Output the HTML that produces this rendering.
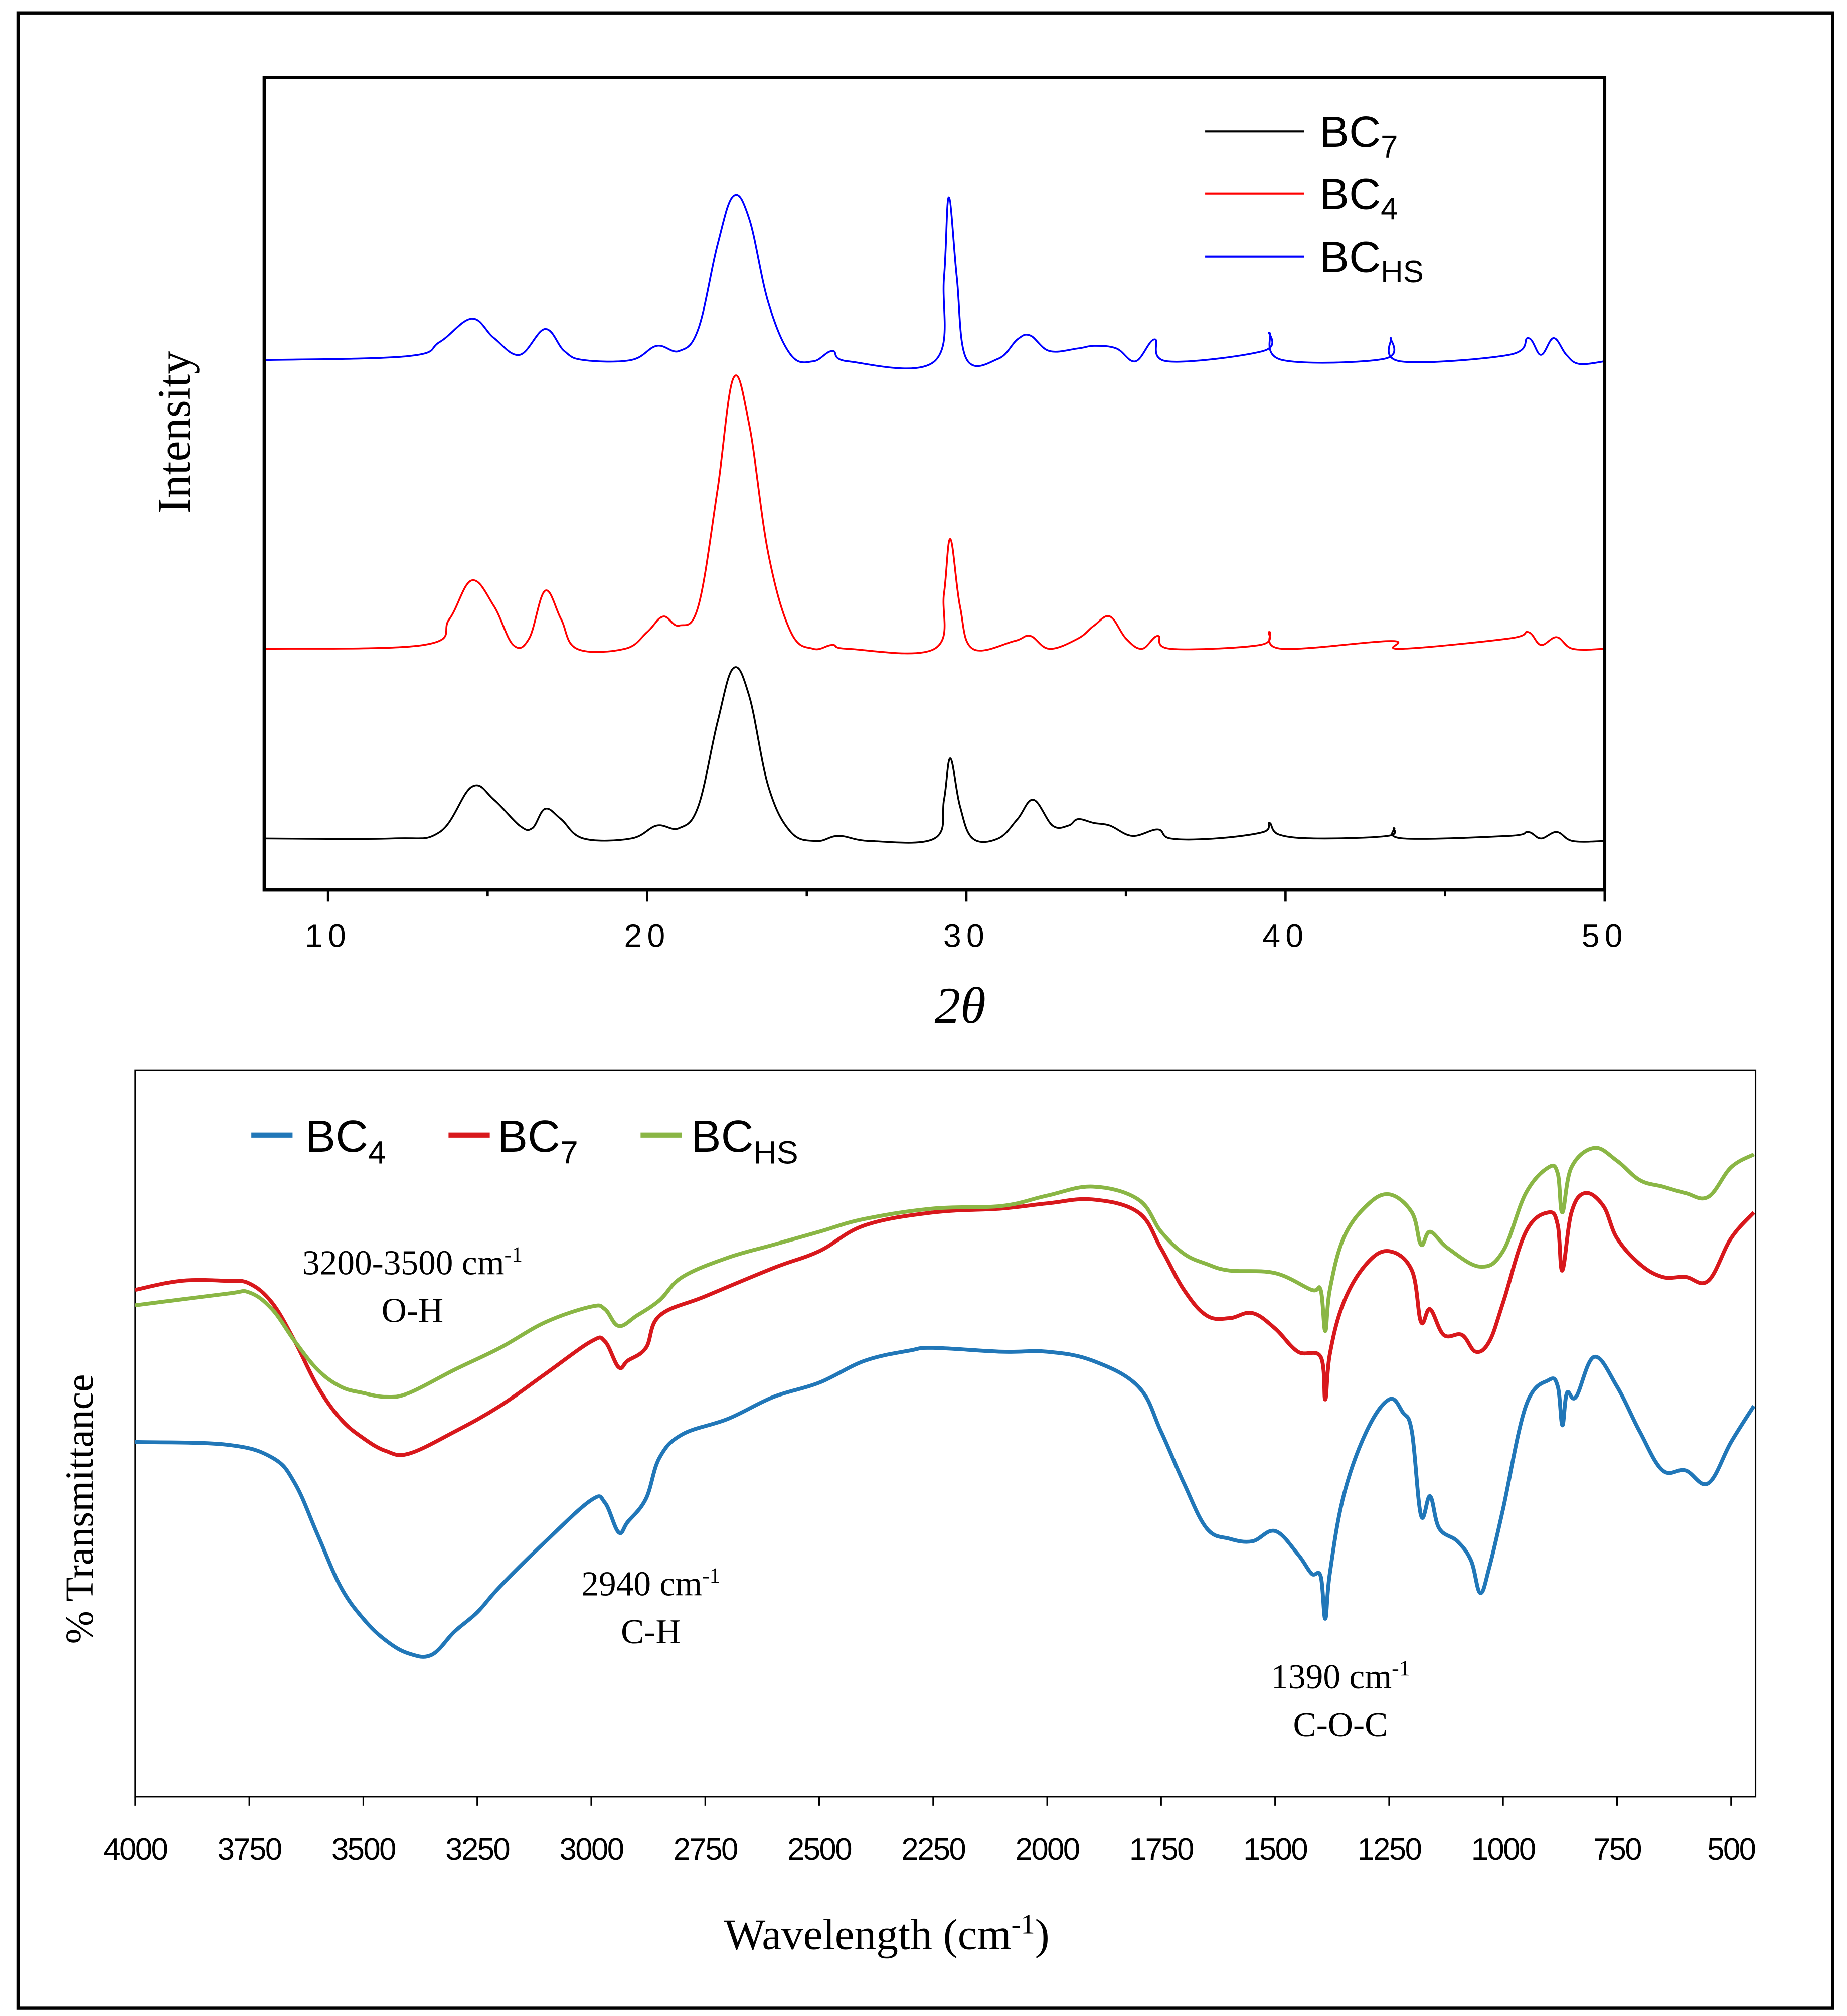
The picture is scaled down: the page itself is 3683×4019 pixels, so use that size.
<!DOCTYPE html>
<html><head><meta charset="utf-8"><style>
html,body{margin:0;padding:0;background:#fff;}
svg{display:block;}
</style></head><body>
<svg id="fig" width="3683" height="4019" viewBox="0 0 1433 1563" preserveAspectRatio="none" xmlns="http://www.w3.org/2000/svg">
<rect x="14" y="10" width="1408" height="1547" fill="#fff" stroke="#000" stroke-width="2.5"/>
<g id="xrd"></g>
<g id="ftir"></g>
</svg>
<script>
// ---------- XRD data (2theta, intensity a.u.) ----------
const xrdTicks = [10,20,30,40,50];
const xrdBC7x = [8,12,13.5,14.5,15.2,16,16.4,16.8,17.3,18,19.5,20.3,21,21.6,22.2,22.7,23.2,23.8,24.5,25.3,26,27,29,29.3,29.5,29.8,30.2,31,31.6,32.1,32.7,33.2,33.5,34,34.5,35.2,36,36.4,37.8,39.3,39.5,39.8,41,43.2,43.4,43.7,47,47.6,48,48.5,49,50];
const xrdBC7y = [650,650,645,610,620,640,642,627,635,650,650,640,642,625,560,518,540,610,645,652,648,652,650,620,588,625,650,650,635,620,640,640,635,638,640,648,643,650,650,645,638,647,650,648,642,650,648,645,650,645,652,652].map(v=>(690-v)/630*100);
const xrdBC4x = [8,13,13.8,14.5,15.2,15.8,16.3,16.8,17.3,17.8,19.3,20,20.5,21,21.6,22.2,22.7,23.2,23.8,24.5,25.2,25.8,26.3,29,29.3,29.5,29.8,30.2,31.5,32,32.6,33.5,34,34.5,35,35.5,36,36.4,39.2,39.5,39.9,43.3,43.6,47,47.6,48,48.5,49,50];
const xrdBC4y = [503,500,480,450,470,500,495,458,480,503,503,490,478,485,470,380,293,330,430,490,503,500,503,503,460,418,470,503,497,493,503,495,485,478,495,503,493,503,500,490,503,497,503,495,490,500,494,503,503].map(v=>(690-v)/630*100);
const xrdHSx = [8,12.5,13.5,14.5,15.2,16,16.8,17.4,18,19.5,20.3,21,21.6,22.2,22.7,23.2,23.8,24.5,25.2,25.8,26.3,29,29.3,29.45,29.7,30,31,31.6,32,32.6,33.5,34,34.7,35.3,35.9,36.3,39.3,39.5,39.9,43.1,43.3,43.6,47,47.6,48,48.4,48.8,49.2,50];
const xrdHSy = [279,276,265,247,262,275,255,272,279,279,268,272,255,190,152,170,235,275,280,272,280,280,215,153,215,278,278,263,260,272,270,268,270,280,263,280,272,258,279,278,262,280,275,262,275,262,275,282,280].map(v=>(690-v)/630*100);

// ---------- FTIR data (wavenumber, %T a.u.) ----------
const ftirTicks = [4000,3750,3500,3250,3000,2750,2500,2250,2000,1750,1500,1250,1000,750,500];
const bc4x = [4000,3800,3700,3650,3600,3550,3500,3450,3400,3350,3300,3250,3200,3100,3000,2970,2940,2920,2880,2850,2800,2700,2600,2500,2400,2300,2250,2100,2000,1900,1800,1750,1700,1650,1600,1550,1500,1450,1420,1400,1390,1380,1350,1300,1250,1220,1200,1180,1160,1140,1100,1070,1050,1030,1000,950,900,880,870,860,840,800,750,700,650,600,550,500,450];
const bc4y = [1118,1120,1130,1150,1190,1230,1255,1272,1282,1283,1265,1250,1230,1195,1163,1165,1188,1180,1162,1130,1112,1100,1083,1072,1055,1047,1045,1048,1048,1055,1075,1110,1150,1185,1193,1195,1187,1205,1220,1222,1255,1220,1160,1110,1085,1095,1110,1175,1160,1185,1195,1210,1235,1215,1170,1090,1070,1075,1105,1080,1083,1052,1075,1110,1140,1140,1150,1118,1090].map(v=>(1393-v)/563*100);
const bc7x = [4000,3900,3800,3750,3700,3650,3600,3550,3500,3450,3400,3300,3200,3100,3000,2970,2940,2920,2880,2850,2750,2600,2500,2400,2250,2100,2000,1900,1800,1750,1700,1650,1600,1550,1500,1450,1400,1390,1380,1350,1300,1250,1200,1180,1160,1130,1090,1060,1030,1000,950,900,880,870,850,820,780,750,700,650,600,550,500,450];
const bc7y = [1000,993,993,995,1010,1040,1075,1100,1115,1125,1127,1110,1090,1065,1040,1040,1060,1055,1045,1020,1005,983,970,950,940,937,933,930,940,968,1000,1020,1022,1018,1030,1048,1052,1085,1050,1010,980,970,985,1025,1015,1035,1035,1048,1040,1010,955,940,950,985,940,925,935,960,980,990,990,993,960,940].map(v=>(1393-v)/563*100);
const bchsx = [4000,3800,3750,3700,3650,3600,3550,3500,3450,3400,3300,3200,3100,3000,2970,2940,2900,2850,2800,2700,2600,2500,2400,2250,2100,2000,1900,1800,1750,1700,1650,1600,1500,1420,1400,1390,1380,1350,1300,1250,1200,1180,1160,1120,1050,1000,950,900,880,870,850,800,750,700,650,600,550,500,450];
const bchsy = [1012,1003,1002,1015,1040,1062,1075,1080,1083,1080,1062,1045,1025,1013,1015,1028,1020,1008,990,975,965,955,945,937,935,927,920,930,955,972,980,985,987,1000,1000,1032,1000,960,935,926,940,965,955,968,982,970,925,905,910,940,905,890,900,915,920,925,928,905,895].map(v=>(1393-v)/563*100);

const NS='http://www.w3.org/2000/svg';
function mk(parent,tag,attrs,text){const e=document.createElementNS(NS,tag);for(const k in attrs)e.setAttribute(k,attrs[k]);if(text!==undefined)e.textContent=text;parent.appendChild(e);return e;}
function smooth(pts){
  let d='M'+pts[0][0].toFixed(2)+' '+pts[0][1].toFixed(2);
  for(let i=0;i<pts.length-1;i++){
    const p0=pts[Math.max(0,i-1)],p1=pts[i],p2=pts[i+1],p3=pts[Math.min(pts.length-1,i+2)];
    const t=0.18;
    const c1=[p1[0]+(p2[0]-p0[0])*t,p1[1]+(p2[1]-p0[1])*t];
    const c2=[p2[0]-(p3[0]-p1[0])*t,p2[1]-(p3[1]-p1[1])*t];
    d+=' C'+c1[0].toFixed(2)+' '+c1[1].toFixed(2)+' '+c2[0].toFixed(2)+' '+c2[1].toFixed(2)+' '+p2[0].toFixed(2)+' '+p2[1].toFixed(2);
  }
  return d;
}

// ---------- XRD ----------
const g1=document.getElementById('xrd');
const X1=v=>205+(v-8)/(50-8)*(1245-205);
const Y1=v=>690-v/100*630;
function path1(xs,ys){return smooth(xs.map((x,i)=>[X1(x),Y1(ys[i])]));}
let p;
p=mk(g1,'path',{d:path1(xrdBC7x,xrdBC7y),fill:'none',stroke:'#000','stroke-width':1.4});


p=mk(g1,'path',{d:path1(xrdBC4x,xrdBC4y),fill:'none',stroke:'#ff0000','stroke-width':1.4});


p=mk(g1,'path',{d:path1(xrdHSx,xrdHSy),fill:'none',stroke:'#0000ff','stroke-width':1.4});


p=mk(g1,'rect',{x:205,y:60,width:1040,height:630,fill:'none',stroke:'#000','stroke-width':2.5});


for(let v=10;v<=50;v+=5){
  const t=mk(g1,'line',{x1:X1(v),x2:X1(v),y1:690,y2:v%10===0?699:695,stroke:'#000','stroke-width':1.8});
  
  
}
xrdTicks.forEach(v=>{
  const t=mk(g1,'text',{x:X1(v),y:734,'text-anchor':'middle','font-family':'Liberation Sans, sans-serif','font-size':25,'letter-spacing':4},String(v));
  
  
});
p=mk(g1,'text',{x:745,y:793,'text-anchor':'middle','font-family':'Liberation Serif, serif','font-size':40,'font-style':'italic'},'2θ');


p=mk(g1,'text',{x:0,y:0,transform:'translate(147,335) rotate(-90)','text-anchor':'middle','font-family':'Liberation Serif, serif','font-size':36},'Intensity');


[['#000','7',102],['#ff0000','4',150],['#0000ff','HS',199]].forEach(([c,s,y])=>{
  const l=mk(g1,'line',{x1:935,x2:1012,y1:y,y2:y,stroke:c,'stroke-width':1.6});
  
  
  const t=mk(g1,'text',{x:1024,y:y+12,'font-family':'Liberation Sans, sans-serif','font-size':34},'BC');
  mk(t,'tspan',{'font-size':24,dy:8},s);
  
  
});

// ---------- FTIR ----------
const g2=document.getElementById('ftir');
const X2=v=>105+(4000-v)/250*88.43;
const Y2=v=>1393-v/100*563;
function path2(xs,ys){return smooth(xs.map((x,i)=>[X2(x),Y2(ys[i])]));}
p=mk(g2,'rect',{x:105,y:830,width:1257,height:563,fill:'none',stroke:'#000','stroke-width':1.2});


p=mk(g2,'path',{d:path2(bc4x,bc4y),fill:'none',stroke:'#2177b8','stroke-width':3});


p=mk(g2,'path',{d:path2(bc7x,bc7y),fill:'none',stroke:'#d8181c','stroke-width':3});


p=mk(g2,'path',{d:path2(bchsx,bchsy),fill:'none',stroke:'#8ab645','stroke-width':3});


ftirTicks.forEach(v=>{
  const l=mk(g2,'line',{x1:X2(v),x2:X2(v),y1:1393,y2:1400,stroke:'#000','stroke-width':1.2});
  
  
  const t=mk(g2,'text',{x:X2(v),y:1442,'text-anchor':'middle','font-family':'Liberation Sans, sans-serif','font-size':24,'letter-spacing':-1},String(v));
  
  
});
p=mk(g2,'text',{x:688,y:1511,'text-anchor':'middle','font-family':'Liberation Serif, serif','font-size':34},'Wavelength (cm');
mk(p,'tspan',{'font-size':22,dy:-12},'-1');
mk(p,'tspan',{dy:12},')');


p=mk(g2,'text',{x:0,y:0,transform:'translate(72,1170) rotate(-90)','text-anchor':'middle','font-family':'Liberation Serif, serif','font-size':31},'% Transmittance');


[['#2177b8','4',195,237],['#d8181c','7',348,386],['#8ab645','HS',497,536]].forEach(([c,s,x,tx])=>{
  const l=mk(g2,'line',{x1:x,x2:x+32,y1:880,y2:880,stroke:c,'stroke-width':4});
  
  
  const t=mk(g2,'text',{x:tx,y:893,'font-family':'Liberation Sans, sans-serif','font-size':35},'BC');
  mk(t,'tspan',{'font-size':25,dy:9},s);
  
  
});
[['3200-3500 cm','O-H',320,988],['2940 cm','C-H',505,1237],['1390 cm','C-O-C',1040,1309]].forEach(([a,b,x,y])=>{
  const t=mk(g2,'text',{x:x,y:y,'text-anchor':'middle','font-family':'Liberation Serif, serif','font-size':27},a);
  mk(t,'tspan',{'font-size':17,dy:-10},'-1');
  
  
  const t2=mk(g2,'text',{x:x,y:y+37,'text-anchor':'middle','font-family':'Liberation Serif, serif','font-size':27},b);
  
  
});
</script>
</body></html>
